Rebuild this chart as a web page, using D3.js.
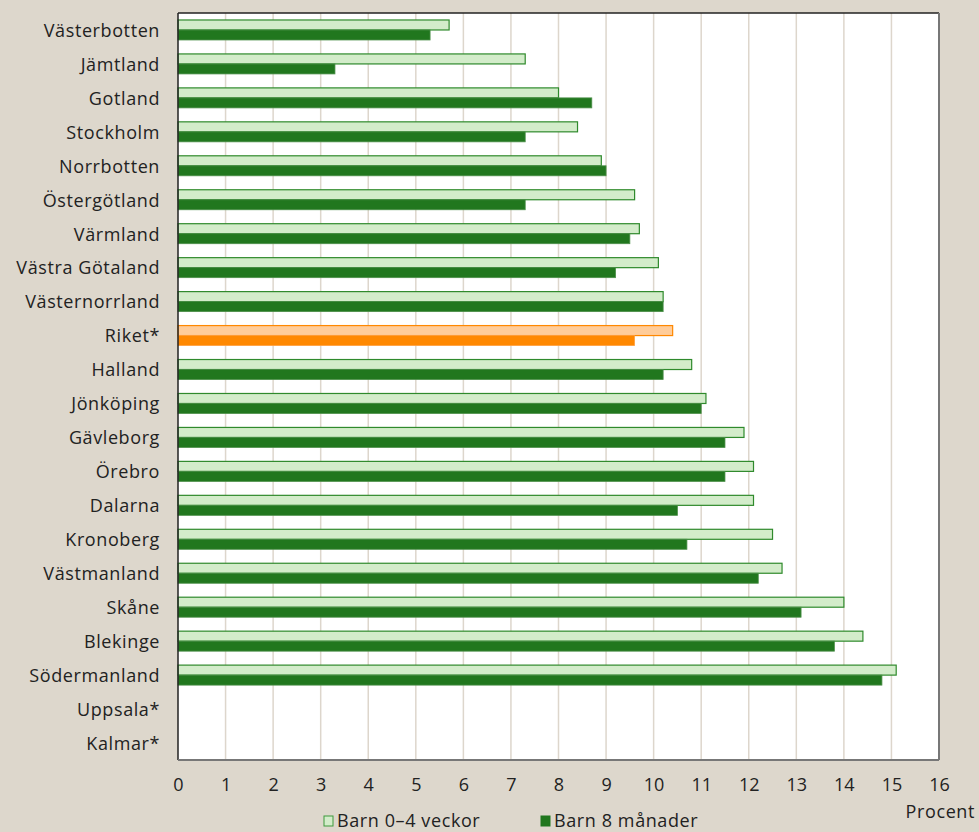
<!DOCTYPE html>
<html><head><meta charset="utf-8">
<script src="https://cdn.jsdelivr.net/npm/d3@7"></script>
<style>
html,body{margin:0;padding:0;background:#ddd7cc;}
svg{display:block;}
text{font-family:"Open Sans",sans-serif;fill:#222;}
</style></head><body>
<svg id="c" width="979" height="832"></svg>
<script>
const categories = ["Västerbotten","Jämtland","Gotland","Stockholm","Norrbotten","Östergötland","Värmland","Västra Götaland","Västernorrland","Riket*","Halland","Jönköping","Gävleborg","Örebro","Dalarna","Kronoberg","Västmanland","Skåne","Blekinge","Södermanland","Uppsala*","Kalmar*"];
const barn04 = [5.7,7.3,8.0,8.4,8.9,9.6,9.7,10.1,10.2,10.4,10.8,11.1,11.9,12.1,12.1,12.5,12.7,14.0,14.4,15.1,null,null];
const barn8m = [5.3,3.3,8.7,7.3,9.0,7.3,9.5,9.2,10.2,9.6,10.2,11.0,11.5,11.5,10.5,10.7,12.2,13.1,13.8,14.8,null,null];
const ticks = [0,1,2,3,4,5,6,7,8,9,10,11,12,13,14,15,16];
const seriesNames = ["Barn 0–4 veckor","Barn 8 månader"];
const highlight = "Riket*";

const svg = d3.select("#c");
const L=178, R=939, T=13, B=760;
const x = d3.scaleLinear().domain([0,16]).range([L,R]);
const y = d3.scaleBand().domain(categories).range([T,B]);
const barH = 10;
const FS = 18, LS = "0.6px";

svg.append("rect").attr("x",L).attr("y",T).attr("width",R-L).attr("height",B-T).attr("fill","#fff");
// grid
svg.append("g").selectAll("line").data(ticks.slice(1,-1)).join("line")
  .attr("x1",d=>x(d)).attr("x2",d=>x(d)).attr("y1",T).attr("y2",B)
  .attr("stroke","#ddd6cc").attr("stroke-width",1.5);

const data = categories.map((c,i)=>({c,a:barn04[i],b:barn8m[i]}));
const g = svg.append("g");
data.forEach(d=>{
  const hl = d.c===highlight;
  const cy = y(d.c)+y.bandwidth()/2;
  if(d.a!=null) g.append("rect").attr("x",x(0)).attr("y",cy-barH).attr("width",x(d.a)-x(0)).attr("height",barH)
    .attr("fill",hl?"#ffcc99":"#d3ecca").attr("stroke",hl?"#ff8800":"#2f8a2c").attr("stroke-width",1.2);
  if(d.b!=null) g.append("rect").attr("x",x(0)).attr("y",cy).attr("width",x(d.b)-x(0)).attr("height",barH)
    .attr("fill",hl?"#ff8800":"#21771e").attr("stroke",hl?"#ffa040":"#4c8f49").attr("stroke-width",0.8);
});

// frame
svg.append("line").attr("x1",L).attr("x2",R).attr("y1",T).attr("y2",T).attr("stroke","#222").attr("stroke-width",1.5);
svg.append("line").attr("x1",L).attr("x2",L).attr("y1",T).attr("y2",B).attr("stroke","#222").attr("stroke-width",1.5);
svg.append("line").attr("x1",R).attr("x2",R).attr("y1",T).attr("y2",B).attr("stroke","#777").attr("stroke-width",2);
svg.append("line").attr("x1",L).attr("x2",R).attr("y1",B).attr("y2",B).attr("stroke","#777").attr("stroke-width",2);

// y labels
svg.append("g").selectAll("text").data(categories).join("text")
  .attr("x",160).attr("y",d=>y(d)+y.bandwidth()/2).attr("dy","0.38em")
  .attr("text-anchor","end").attr("font-size",FS).attr("letter-spacing",LS).text(d=>d);

// x axis
const xa = d3.axisBottom(x).tickValues(ticks).tickSize(0).tickPadding(18).tickFormat(d3.format("d"));
const ax = svg.append("g").attr("transform",`translate(0,${B})`).call(xa);
ax.select(".domain").remove();
ax.selectAll("text").attr("font-size",FS).attr("font-family","'Open Sans',sans-serif").attr("fill","#222");

svg.append("text").attr("x",975).attr("y",818).attr("text-anchor","end").attr("font-size",FS).attr("letter-spacing",LS).text("Procent");

// legend
const lg = svg.append("g");
const lx=[324,541];
lx.forEach((px,i)=>{
  lg.append("rect").attr("x",px).attr("y",816).attr("width",9).attr("height",10)
   .attr("fill",i===0?"#d3ecca":"#21771e").attr("stroke",i===0?"#3f9a3c":"#21771e").attr("stroke-width",1);
  lg.append("text").attr("x",px+13).attr("y",827).attr("font-size",FS).attr("letter-spacing",LS).text(seriesNames[i]);
});
</script></body></html>
